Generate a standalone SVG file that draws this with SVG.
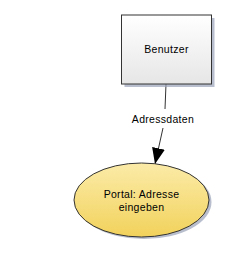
<svg xmlns="http://www.w3.org/2000/svg" width="242" height="265" viewBox="0 0 242 265">
<defs>
<linearGradient id="gBox" x1="0" y1="0" x2="0" y2="1"><stop offset="0" stop-color="#ffffff"/><stop offset="1" stop-color="#e6e6e6"/></linearGradient>
<linearGradient id="gEll" x1="0" y1="0" x2="0" y2="1"><stop offset="0" stop-color="#fbeba8"/><stop offset="1" stop-color="#f2d25c"/></linearGradient>
<marker id="arr" markerWidth="16" markerHeight="13" refX="16" refY="6.5" orient="auto" markerUnits="userSpaceOnUse" viewBox="0 0 16 13"><path d="M0,0 L16,6.5 L0,13 Z" fill="#000"/></marker>
</defs>
<style>
text{font-family:"Liberation Sans",Arial,sans-serif;font-size:10.5px;fill:#000;text-anchor:middle;letter-spacing:0.3px}
.shadow{fill:#9aa3b8;opacity:0.7}
.line{stroke:#333;stroke-width:1;fill:none}
</style>
<rect width="242" height="265" fill="#fff"/>
<g id="connectors">
<path class="line" d="M166,84 L165,109"/>
<path class="line" d="M163,128 L155,164" marker-end="url(#arr)"/>
<text x="163" y="123">Adressdaten</text>
</g>
<g id="benutzer">
<rect class="shadow" x="124.5" y="18" width="90" height="69"/>
<rect x="121.5" y="15" width="90" height="69" fill="url(#gBox)" stroke="#333" stroke-width="1"/>
<text x="166.5" y="53">Benutzer</text>
</g>
<g id="portal">
<ellipse class="shadow" cx="144" cy="202" rx="67.5" ry="37"/>
<ellipse cx="141.5" cy="200" rx="67.5" ry="37" fill="url(#gEll)" stroke="#333" stroke-width="1"/>
<text x="141.5" y="198">Portal: Adresse</text>
<text x="141.5" y="211">eingeben</text>
</g>
</svg>
